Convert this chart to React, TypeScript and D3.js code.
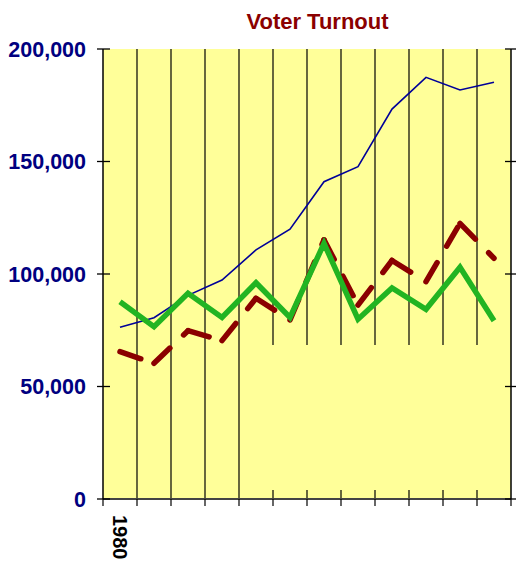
import React from "react";
import * as d3 from "d3";

const categories = ["1980", "1982", "1984", "1986", "1988", "1990", "1992", "1994", "1996", "1998", "2000", "2002"];
const shownLabels = ["1980"];
const blueSeries = [76300, 80600, 90500, 97300, 110700, 119900, 141000, 147700, 173300, 187400, 181800, 185200];
const redSeries = [65500, 60300, 74800, 70400, 89200, 79600, 115200, 86200, 106000, 96600, 122500, 107000];
const greenSeries = [87700, 76600, 91400, 80700, 96100, 80700, 113600, 79900, 93800, 84300, 103000, 79200];
const yTicks = [0, 50000, 100000, 150000, 200000];
const title = "Voter Turnout";

const W = 516, H = 561;
const L = 103, R = 511, T = 49, B = 499;
const FONT = "'Liberation Sans', Arial, sans-serif";

export default function App() {
  const x = d3.scaleBand<string>().domain(categories).range([L, R]).padding(0);
  const y = d3.scaleLinear().domain([0, 200000]).range([B, T]);
  const cx = (c: string) => (x(c) as number) + x.bandwidth() / 2;
  const line = d3.line<[number, number]>().x((d) => d[0]).y((d) => d[1]);
  const pts = (s: number[]) => s.map((v, i) => [cx(categories[i]), y(v)] as [number, number]);
  const boundaries = d3.range(categories.length + 1).map((i) => L + i * x.bandwidth());
  const fmt = d3.format(",");

  const redPts = pts(redSeries);
  const redSegs = redPts.slice(1).map((p, i) => line([redPts[i], p]) as string);

  return (
    <svg width={W} height={H} style={{ position: "absolute", left: 0, top: 0 }}>
      <rect x={0} y={0} width={W} height={H} fill="#ffffff" />
      <rect x={L} y={T} width={R - L} height={B - T} fill="#FFFF99" />
      {/* vertical gridlines */}
      {boundaries.slice(1, -1).map((bx, i) => (
        <g key={i}>
          <line x1={bx} x2={bx} y1={T} y2={bx < 260 ? B : 345} stroke="#000" strokeWidth={1.2} />
          {bx > 260 && <line x1={bx} x2={bx} y1={490} y2={B} stroke="#000" strokeWidth={1.2} />}
        </g>
      ))}
      {/* x axis */}
      <line x1={L} x2={R} y1={B} y2={B} stroke="#444" strokeWidth={2} />
      {boundaries.map((bx, i) => (
        <line key={i} x1={bx} x2={bx} y1={B} y2={B + 7} stroke="#000" strokeWidth={1.2} />
      ))}
      {/* y axes */}
      <line x1={L} x2={L} y1={T} y2={B} stroke="#000" strokeWidth={1.5} />
      <line x1={R} x2={R} y1={T} y2={B} stroke="#000" strokeWidth={1.5} />
      {yTicks.map((t) => (
        <g key={t}>
          <line x1={L - 6} x2={L + 7} y1={y(t)} y2={y(t)} stroke="#000" strokeWidth={1.3} />
          <line x1={R - 6} x2={R + 7} y1={y(t)} y2={y(t)} stroke="#000" strokeWidth={1.3} />
          <text x={86} y={y(t)} dy="0.36em" textAnchor="end" fontFamily={FONT} fontWeight="bold" fontSize={21.5} fill="#000080">
            {fmt(t)}
          </text>
        </g>
      ))}
      {/* series */}
      <path d={line(pts(blueSeries)) as string} fill="none" stroke="#000099" strokeWidth={1.6} />
      {redSegs.map((d, i) => (
        <path key={i} d={d} fill="none" stroke="#8B0000" strokeWidth={5.5} strokeDasharray="22 19" strokeLinecap="round" />
      ))}
      <path d={line(pts(greenSeries)) as string} fill="none" stroke="#22B422" strokeWidth={5.5} strokeLinejoin="miter" />
      {/* x labels */}
      {shownLabels.map((c) => (
        <text key={c} transform={`translate(${cx(c)},515) rotate(90)`} dy="0.36em" fontFamily={FONT} fontWeight="bold" fontSize={20} fill="#000">
          {c}
        </text>
      ))}
      <text x={317.5} y={28.5} textAnchor="middle" fontFamily={FONT} fontWeight="bold" fontSize={22} fill="#8B0000">
        {title}
      </text>
    </svg>
  );
}
